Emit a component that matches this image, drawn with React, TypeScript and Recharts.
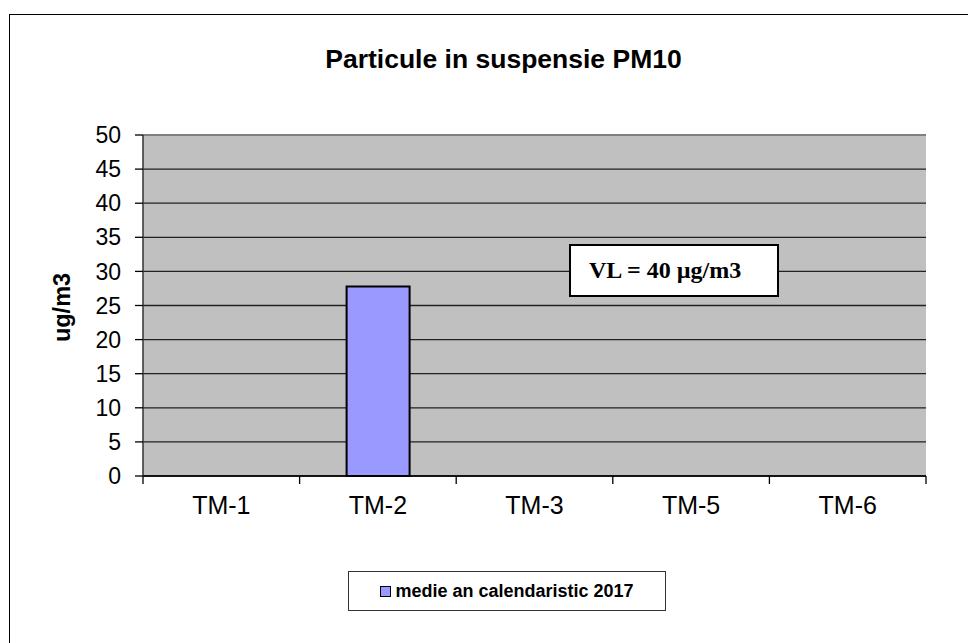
import { BarChart, Bar, XAxis, YAxis, CartesianGrid, Legend, ReferenceLine } from "recharts";

const stations = ["TM-1", "TM-2", "TM-3", "TM-5", "TM-6"];
const annualMean2017: (number | null)[] = [null, 27.8, null, null, null];
const yTicks = [0, 5, 10, 15, 20, 25, 30, 35, 40, 45, 50];

const chartTitle = "Particule in suspensie PM10";
const yLabel = "ug/m3";
const seriesName = "medie an calendaristic 2017";
const limitNote = "VL = 40 µg/m3";

const data = stations.map((station, i) => ({ station, value: annualMean2017[i] }));

const sans = "'Liberation Sans', Arial, sans-serif";
const serif = "'Liberation Serif', 'Times New Roman', serif";
const barColor = "#9999ff";

// category label in the middle, tick marks on the category borders (Excel style)
function StationTick(props: any) {
  const { x, y, payload, index, visibleTicksCount } = props;
  const half = payload?.offset ?? 0;
  const last = index === (visibleTicksCount ?? stations.length) - 1;
  return (
    <g>
      <line x1={x - half} x2={x - half} y1={y - 20} y2={y - 12} stroke="#000" strokeWidth={1.3} />
      {last && (
        <line x1={x + half} x2={x + half} y1={y - 20} y2={y - 12} stroke="#000" strokeWidth={1.3} />
      )}
      <text
        x={x}
        y={y}
        dy="0.71em"
        textAnchor="middle"
        fontFamily={sans}
        fontSize={25}
        fill="#000"
      >
        {payload.value}
      </text>
    </g>
  );
}

function LegendBox() {
  return (
    <div
      style={{
        boxSizing: "border-box",
        width: 318,
        height: 40,
        border: "1.5px solid #333",
        background: "#fff",
        display: "flex",
        alignItems: "center",
        justifyContent: "center",
        fontFamily: sans,
        fontWeight: "bold",
        fontSize: 18,
        color: "#000",
      }}
    >
      <span
        style={{
          display: "inline-block",
          boxSizing: "border-box",
          width: 11,
          height: 11,
          border: "1.5px solid #000",
          background: barColor,
          marginRight: 4,
        }}
      />
      {seriesName}
    </div>
  );
}

export default function App() {
  return (
    <div
      style={{
        position: "absolute",
        left: 0,
        top: 0,
        width: 968,
        height: 643,
        overflow: "hidden",
        background: "#fff",
      }}
    >
      {/* outer chart frame, cut off on the right and bottom */}
      <div
        style={{
          position: "absolute",
          left: 9,
          top: 14,
          width: 1100,
          height: 800,
          border: "1.5px solid #000",
        }}
      />
      <div
        style={{
          position: "absolute",
          left: 0,
          top: 44,
          width: 1007,
          textAlign: "center",
          fontFamily: sans,
          fontWeight: "bold",
          fontSize: 26.5,
          lineHeight: "30px",
          color: "#000",
        }}
      >
        {chartTitle}
      </div>

      <div style={{ position: "absolute", left: 0, top: 0 }}>
        <BarChart
          width={968}
          height={643}
          data={data}
          margin={{ top: 135, right: 42, bottom: 127, left: 0 }}
        >
          <CartesianGrid
            vertical={false}
            fill="#c0c0c0"
            stroke="#222"
            strokeWidth={1.3}
          />
          <XAxis
            dataKey="station"
            height={40}
            tickLine={false}
            tickSize={0}
            tickMargin={20}
            axisLine={{ stroke: "#000", strokeWidth: 1.5 }}
            tick={<StationTick />}
            interval={0}
          />
          <YAxis
            width={143}
            domain={[0, 50]}
            ticks={yTicks}
            interval={0}
            tickSize={8}
            tickMargin={14}
            tickLine={{ stroke: "#000", strokeWidth: 1.3 }}
            axisLine={{ stroke: "#333", strokeWidth: 1.5 }}
            tick={{ fontSize: 23, fill: "#000", fontFamily: sans }}
            label={{
              content: ({ viewBox }: any) => {
                const cx = (viewBox?.x ?? 0) + 62;
                const cy = (viewBox?.y ?? 0) + (viewBox?.height ?? 0) / 2 + 2;
                return (
                  <text
                    x={cx}
                    y={cy}
                    transform={`rotate(-90 ${cx} ${cy})`}
                    textAnchor="middle"
                    dominantBaseline="central"
                    fontFamily={sans}
                    fontWeight="bold"
                    fontSize={23.5}
                    fill="#000"
                  >
                    {yLabel}
                  </text>
                );
              },
            }}
          />
          <YAxis
            yAxisId="right"
            orientation="right"
            width={0}
            domain={[0, 50]}
            tick={false}
            tickLine={false}
            axisLine={{ stroke: "#808080", strokeWidth: 1.5 }}
          />
          <ReferenceLine y={50} stroke="#808080" strokeWidth={2} />
          <Legend
            layout="horizontal"
            verticalAlign="middle"
            align="center"
            wrapperStyle={{ left: 348, top: 571, width: 318, height: 40 }}
            content={() => <LegendBox />}
          />
          <Bar
            dataKey="value"
            name={seriesName}
            fill={barColor}
            stroke="#000"
            strokeWidth={2}
            barSize={63}
            isAnimationActive={false}
          />
        </BarChart>
      </div>

      <div
        style={{
          position: "absolute",
          left: 569,
          top: 244,
          width: 210,
          height: 53,
          boxSizing: "border-box",
          border: "2px solid #000",
          background: "#fff",
          paddingLeft: 18,
          display: "flex",
          alignItems: "center",
          fontFamily: serif,
          fontWeight: "bold",
          fontSize: 24,
          color: "#000",
        }}
      >
        {limitNote}
      </div>
    </div>
  );
}
